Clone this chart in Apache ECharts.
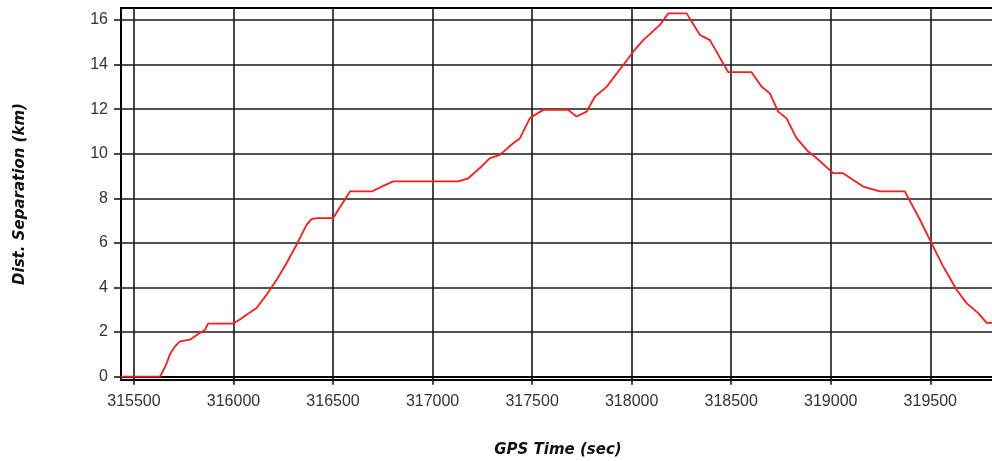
<!DOCTYPE html>
<html>
<head>
<meta charset="utf-8">
<script src="https://cdn.jsdelivr.net/npm/echarts@6/dist/echarts.min.js"></script>
<style>
html,body{margin:0;padding:0;background:#fff;}
#chart{width:992px;height:461px;}
</style>
</head>
<body>
<div id="chart"></div>
<script>
// GPS time (sec) and distance separation (km)
var gpsTime = [315435,315631,315660,315681,315705,315731,315781,315831,315857,315872,315997,316030,316066,316116,316166,316217,316267,316317,316367,316392,316420,316500,316585,316694,316750,316802,317129,317179,317246,317288,317338,317405,317439,317489,317556,317681,317723,317774,317815,317874,317958,318008,318058,318142,318184,318276,318343,318393,318485,318602,318653,318694,318736,318778,318828,318887,318929,319012,319062,319163,319247,319372,319448,319506,319565,319632,319682,319741,319783,319825];
var distSep = [0,0,0.5,1.0,1.35,1.58,1.66,1.96,2.1,2.38,2.38,2.55,2.78,3.08,3.67,4.35,5.1,5.92,6.81,7.07,7.11,7.11,8.31,8.31,8.55,8.76,8.76,8.9,9.43,9.8,9.95,10.47,10.7,11.6,11.97,11.97,11.67,11.89,12.56,13.0,13.98,14.58,15.1,15.78,16.3,16.3,15.33,15.1,13.66,13.66,13.01,12.71,11.89,11.59,10.7,10.1,9.8,9.13,9.13,8.53,8.31,8.31,7.04,5.99,4.94,3.9,3.3,2.85,2.41,2.41];
var xTicks = [315500,316000,316500,317000,317500,318000,318500,319000,319500];
var yTicks = [0,2,4,6,8,10,12,14,16];
var xRange = [315435, 319825];
var yRange = [-0.15, 16.54];

var chart = echarts.init(document.getElementById('chart'), null, {renderer:'canvas'});
var labelFont = {color:'#333', fontFamily:'Liberation Sans, Arial, sans-serif', fontSize:16};
var gridLine = {show:true, lineStyle:{color:'#1a1a1a', width:1.6}};
var pts = gpsTime.map(function(t,i){return [t, distSep[i]];});
chart.setOption({
  animation:false,
  grid:{left:121, top:8, width:874, height:372, show:true, borderColor:'#000', borderWidth:2, backgroundColor:'transparent', containLabel:false, outerBoundsMode:'none'},
  xAxis:{
    type:'value', min:xRange[0], max:xRange[1],
    name:'GPS Time (sec)', nameLocation:'middle', nameGap:63,
    nameTextStyle:{fontFamily:'DejaVu Sans', fontWeight:'bold', fontStyle:'italic', fontSize:15, color:'#111'},
    axisLine:{show:true, lineStyle:{color:'#000', width:2}},
    axisTick:{show:true, length:8, customValues:xTicks, lineStyle:{color:'#1a1a1a', width:1.6}},
    axisLabel:Object.assign({customValues:xTicks, margin:14, formatter:function(v){return String(v);}}, labelFont),
    splitLine:gridLine
  },
  yAxis:{
    type:'value', min:yRange[0], max:yRange[1],
    name:'Dist. Separation (km)', nameLocation:'middle', nameGap:93,
    nameTextStyle:{fontFamily:'DejaVu Sans', fontWeight:'bold', fontStyle:'italic', fontSize:15, color:'#111'},
    axisLine:{show:true, lineStyle:{color:'#000', width:2}},
    axisTick:{show:true, length:7, customValues:yTicks, lineStyle:{color:'#1a1a1a', width:1.6}},
    axisLabel:Object.assign({customValues:yTicks, margin:13}, labelFont),
    splitLine:gridLine
  },
  series:[{
    type:'line', data:pts, showSymbol:false, symbol:'none', clip:true,
    lineStyle:{color:'#ff1a1a', width:1.8}
  }]
});
</script>
</body>
</html>
